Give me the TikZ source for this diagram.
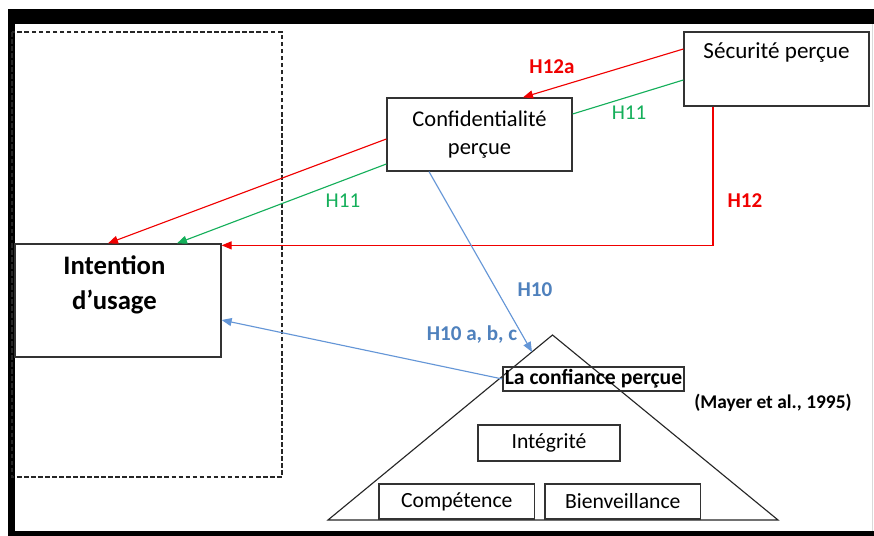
\documentclass[tikz,border=0pt]{standalone}
\usepackage{fontspec}
\setmainfont{Carlito}
\usetikzlibrary{arrows.meta}
\definecolor{hred}{RGB}{240,0,0}
\definecolor{hgreen}{RGB}{20,175,90}
\definecolor{hblue}{RGB}{79,129,189}
\definecolor{lblue}{RGB}{100,150,215}
\begin{document}
\begin{tikzpicture}[box/.style={draw=black!80,line width=0.9pt,inner sep=0pt},
  link/.style={draw=#1,line width=0.8pt,-{Triangle[length=0.25cm,width=0.2cm]}},
  tag/.style={text=#1,font=\fontsize{15}{18}\selectfont\bfseries},
  txt/.style={font=\fontsize{#1}{20}\selectfont}]
\useasboundingbox (0,0) rectangle (21.85,13.4);
\fill[black] (0.2,0) rectangle (21.85,13.175);
\fill[white] (0.375,0.125) rectangle (21.85,12.8);
\draw[black!15] (21.8,0.125) -- (21.8,12.8);
\draw[dash pattern=on 3.3pt off 1.7pt,line width=0.8pt,black!85] (0.3,12.6) rectangle (7.05,1.475);
\node[box,minimum width=4.625cm,minimum height=1.85cm] (secu) at (19.4125,11.675) {};
\node[txt=16.4] (secutxt) at (19.4125,12.075) {Sécurité perçue};
\node[box,txt=16,align=center,minimum width=4.625cm,minimum height=1.825cm] (conf) at (11.9875,10.0375) {Confidentialité\\perçue};
\node[box,minimum width=5.15cm,minimum height=2.825cm] (intent) at (2.95,5.8875) {};
\node[align=center,font=\fontsize{19}{25}\selectfont\bfseries] (intenttxt) at (2.86,6.2875) {Intention\\d’usage};
\coordinate (apex) at (13.8125,5.025);
\coordinate (baseleft) at (8.2,0.4);
\coordinate (baseright) at (19.45,0.4);
\draw[line width=0.8pt,black!85] (baseleft) -- (apex) -- (baseright) -- cycle;
\coordinate (h10end) at (13.3,4.6);
\node[box,minimum width=4.525cm,minimum height=0.6cm,font=\fontsize{15.4}{18}\selectfont\bfseries] (trust) at (14.8375,3.925) {La confiance perçue};
\node[font=\fontsize{13.8}{16}\selectfont\bfseries] (mayer) at (19.325,3.325) {(Mayer et al., 1995)};
\node[box,txt=15.4,minimum width=3.55cm,minimum height=0.9cm] (integ) at (13.725,2.325) {Intégrité};
\node[box,txt=15.4,minimum width=3.8875cm,minimum height=0.875cm] (compet) at (11.41875,0.8625) {Compétence};
\node[box,txt=15.4,minimum width=3.89cm,minimum height=0.875cm] (bienv) at (15.57,0.8625) {Bienveillance};
\draw[link=hred] ([yshift=0.5cm]secu.west) -- ([xshift=1.0875cm]conf.north);
\draw[hgreen,line width=0.8pt] ([yshift=-0.275cm]secu.west) -- ([yshift=0.5125cm]conf.east);
\draw[link=hred] ([yshift=-0.1125cm]conf.west) -- ([xshift=-0.25cm]intent.north);
\draw[link=hgreen] ([yshift=-0.7375cm]conf.west) -- ([xshift=1.475cm]intent.north);
\draw[link=hred] ([xshift=-1.5875cm]secu.south) |- ([yshift=-0.05cm]intent.north east);
\draw[link=lblue] ([xshift=-1.2625cm]conf.south) -- (h10end);
\draw[link=lblue] (trust.west) -- ([yshift=-0.4875cm]intent.east);
\node[tag=hred] (h12a) at (13.8,11.725) {H12a};
\node[txt=15,text=hgreen] (h11a) at (15.725,10.575) {H11};
\node[txt=15,text=hgreen] (h11b) at (8.575,8.375) {H11};
\node[tag=hred] (h12) at (18.625,8.375) {H12};
\node[tag=hblue] (h10) at (13.375,6.15) {H10};
\node[tag=hblue] (h10abc) at (11.8,5.025) {H10 a, b, c};
\end{tikzpicture}
\end{document}
